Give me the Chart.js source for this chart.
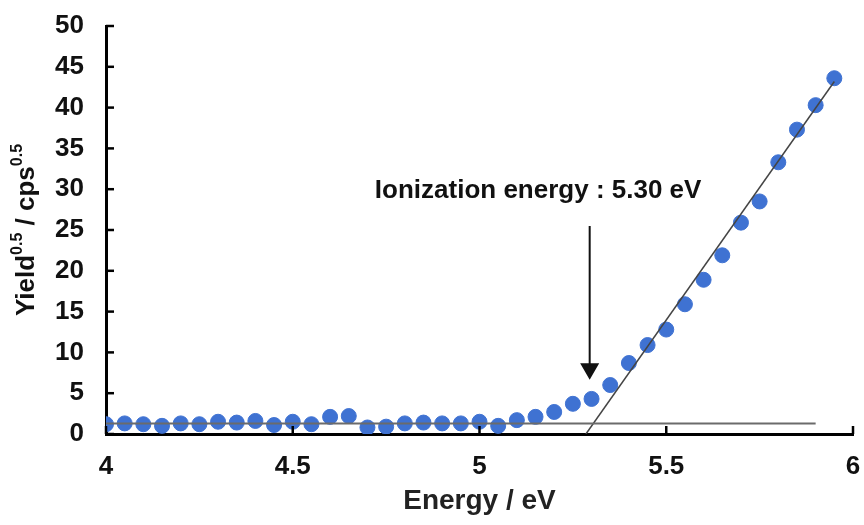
<!DOCTYPE html>
<html lang="en">
<head>
    <meta charset="UTF-8">
    <title>Ionization energy</title>
    <script src="https://cdn.jsdelivr.net/npm/chart.js"></script>
</head>
<style>
    body {
        margin: 0;
        background-color: #fff;
    }
    .wrap {
        position: relative;
        width: 864px;
        height: 525px;
    }
</style>
<body>
<div class="wrap">
    <canvas id="yieldChart"></canvas>
</div>

<script>
    // photon energy (eV) and measured yield^0.5
    const energy = [4.00, 4.05, 4.10, 4.15, 4.20, 4.25, 4.30, 4.35, 4.40, 4.45,
                    4.50, 4.55, 4.60, 4.65, 4.70, 4.75, 4.80, 4.85, 4.90, 4.95,
                    5.00, 5.05, 5.10, 5.15, 5.20, 5.25, 5.30, 5.35, 5.40, 5.45,
                    5.50, 5.55, 5.60, 5.65, 5.70, 5.75, 5.80, 5.85, 5.90, 5.95];
    const yieldRoot = [1.2, 1.3, 1.2, 1.0, 1.3, 1.2, 1.5, 1.4, 1.6, 1.1,
                       1.5, 1.2, 2.1, 2.2, 0.8, 0.9, 1.3, 1.4, 1.3, 1.3,
                       1.5, 1.0, 1.7, 2.1, 2.7, 3.7, 4.3, 6.0, 8.7, 10.9,
                       12.8, 15.9, 18.9, 21.9, 25.9, 28.5, 33.3, 37.3, 40.3, 43.6];

    // background level and linear fit of the rising part
    const baseX = [4.0, 5.9];
    const baseY = [1.3, 1.3];
    const fitX = [5.285, 5.95];
    const fitY = [0, 43.2];

    // arrow + label
    const arrowX = [5.295, 5.295];
    const arrowY = [25.5, 8.0];
    const labelText = 'Ionization energy : 5.30 eV';
    const labelPos = [5.157, 29.8];

    const xTicks = [4, 4.5, 5, 5.5, 6];

    const pts = (xs, ys) => xs.map((x, i) => ({x: x, y: ys[i]}));
    const FONT = 'Liberation Sans, Arial, sans-serif';

    const extras = {
        id: 'extras',
        afterDraw(chart) {
            const c = chart.ctx;
            const xs = chart.scales.x, ys = chart.scales.y;
            const area = chart.chartArea;
            c.save();
            // inward tick marks
            c.strokeStyle = '#000';
            c.lineWidth = 2.5;
            ys.ticks.forEach(t => {
                const py = ys.getPixelForValue(t.value);
                c.beginPath(); c.moveTo(area.left, py); c.lineTo(area.left + 8, py); c.stroke();
            });
            xs.ticks.forEach(t => {
                const px = xs.getPixelForValue(t.value);
                c.beginPath(); c.moveTo(px, area.bottom); c.lineTo(px, area.bottom - 8); c.stroke();
            });
            // annotation label
            c.fillStyle = '#111';
            c.font = 'bold 26px ' + FONT;
            c.textAlign = 'center';
            c.textBaseline = 'middle';
            c.fillText(labelText, xs.getPixelForValue(labelPos[0]), ys.getPixelForValue(labelPos[1]));
            // y title with superscripts
            c.translate(34, (area.top + area.bottom) / 2);
            c.rotate(-Math.PI / 2);
            const parts = [['Yield', false], ['0.5', true], [' / cps', false], ['0.5', true]];
            const big = 'bold 26px ' + FONT, small = 'bold 16px ' + FONT;
            let w = 0;
            parts.forEach(p => { c.font = p[1] ? small : big; w += c.measureText(p[0]).width; });
            let cx = -w / 2;
            c.textAlign = 'left';
            c.textBaseline = 'alphabetic';
            parts.forEach(p => {
                c.font = p[1] ? small : big;
                c.fillText(p[0], cx, p[1] ? -12 : 0);
                cx += c.measureText(p[0]).width;
            });
            c.restore();
        }
    };

    const ctx = document.getElementById('yieldChart').getContext('2d');
    const chart = new Chart(ctx, {
        type: 'scatter',
        data: {
            datasets: [
                {
                    label: 'baseline',
                    data: pts(baseX, baseY),
                    showLine: true,
                    borderColor: '#6b6b6b',
                    borderWidth: 2,
                    pointRadius: 0,
                },
                {
                    label: 'fit',
                    data: pts(fitX, fitY),
                    showLine: true,
                    borderColor: '#444',
                    borderWidth: 1.5,
                    pointRadius: 0,
                },
                {
                    label: 'data',
                    data: pts(energy, yieldRoot),
                    backgroundColor: '#3f72d2',
                    borderColor: '#3f72d2',
                    pointRadius: 7.5,
                },
                {
                    label: 'arrow',
                    data: pts(arrowX, arrowY),
                    showLine: true,
                    borderColor: '#111',
                    borderWidth: 2,
                    pointStyle: 'triangle',
                    pointRotation: 180,
                    pointRadius: [0, 9],
                    backgroundColor: '#111',
                },
            ],
        },
        options: {
            responsive: true,
            maintainAspectRatio: false,
            animation: false,
            layout: {padding: {top: 26, right: 11, left: 0, bottom: 0}},
            plugins: {legend: {display: false}, tooltip: {enabled: false}},
            scales: {
                x: {
                    type: 'linear',
                    min: 4, max: 6,
                    afterBuildTicks: s => { s.ticks = xTicks.map(v => ({value: v})); },
                    afterFit: s => { s.height = 91; s.paddingLeft = 0; s.paddingRight = 0; },
                    grid: {display: true, drawOnChartArea: false, drawTicks: false},
                    border: {display: true, color: '#000', width: 3},
                    ticks: {color: '#111', padding: 17, callback: v => String(v),
                        font: {family: FONT, size: 26, weight: 'bold'}},
                    title: {display: true, text: 'Energy / eV', color: '#222', padding: {top: 0, bottom: 7},
                        font: {family: FONT, size: 28, weight: 'bold'}},
                },
                y: {
                    min: 0, max: 50,
                    afterFit: s => { s.width = 106; s.paddingTop = 0; s.paddingBottom = 0; },
                    grid: {display: true, drawOnChartArea: false, drawTicks: false},
                    border: {display: true, color: '#000', width: 3},
                    ticks: {stepSize: 5, color: '#111', padding: 22, font: {family: FONT, size: 26, weight: 'bold'}},
                },
            },
        },
        plugins: [extras],
    });
</script>
</body>
</html>
